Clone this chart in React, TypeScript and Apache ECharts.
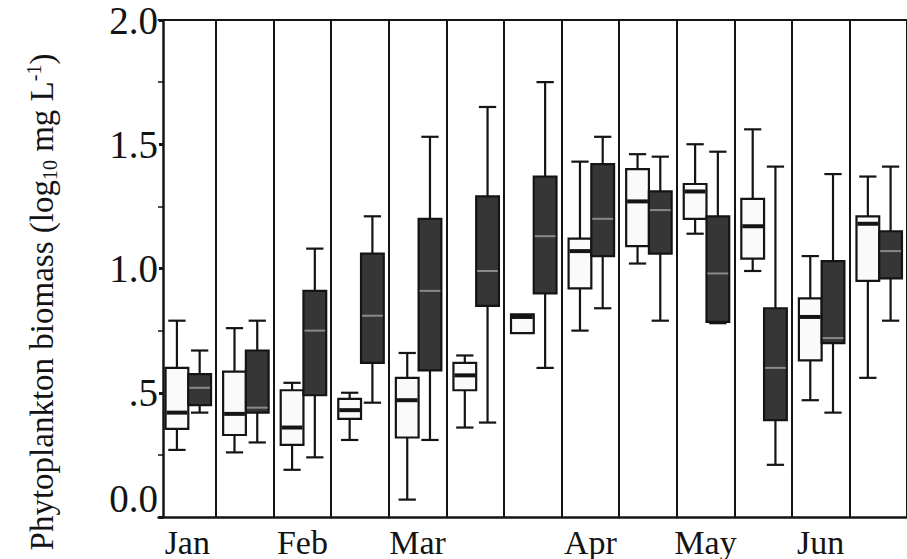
import React, { useEffect, useRef } from "react";
import * as echarts from "echarts";

// Month labels under their columns (13 sampling columns)
const columns = ["Jan", "", "Feb", "", "Mar", "", "", "Apr", "", "May", "", "Jun", ""];

// Open boxes: whisker low, Q1, median, Q3, whisker high (log10 mg L-1)
const openLow = [0.27, 0.26, 0.19, 0.31, 0.07, 0.36, 0.74, 0.75, 1.02, 1.14, 0.99, 0.47, 0.56];
const openQ1 = [0.355, 0.33, 0.29, 0.395, 0.32, 0.51, 0.74, 0.92, 1.09, 1.2, 1.04, 0.63, 0.95];
const openMed = [0.42, 0.415, 0.36, 0.43, 0.47, 0.57, 0.805, 1.07, 1.27, 1.31, 1.17, 0.805, 1.18];
const openQ3 = [0.6, 0.585, 0.51, 0.475, 0.56, 0.62, 0.815, 1.12, 1.4, 1.34, 1.28, 0.88, 1.21];
const openHigh = [0.79, 0.76, 0.54, 0.5, 0.66, 0.65, 0.815, 1.43, 1.46, 1.5, 1.56, 1.05, 1.37];

// Shaded boxes
const shadedLow = [0.42, 0.3, 0.24, 0.46, 0.31, 0.38, 0.6, 0.84, 0.79, 0.78, 0.21, 0.42, 0.79];
const shadedQ1 = [0.45, 0.42, 0.49, 0.62, 0.59, 0.85, 0.9, 1.05, 1.06, 0.785, 0.39, 0.7, 0.96];
const shadedMed = [0.52, 0.44, 0.75, 0.81, 0.91, 0.99, 1.13, 1.2, 1.235, 0.98, 0.6, 0.72, 1.07];
const shadedQ3 = [0.575, 0.67, 0.91, 1.06, 1.2, 1.29, 1.37, 1.42, 1.31, 1.21, 0.84, 1.03, 1.15];
const shadedHigh = [0.67, 0.79, 1.08, 1.21, 1.53, 1.65, 1.75, 1.53, 1.45, 1.47, 1.41, 1.38, 1.41];

const yTicks: Record<string, string> = { "0": "0.0", "0.5": ".5", "1": "1.0", "1.5": "1.5", "2": "2.0" };

const SERIF = "'Liberation Serif', 'DejaVu Serif', serif";
const INK = "#141414";

function rows(lo: number[], q1: number[], med: number[], q3: number[], hi: number[]) {
  return lo.map((v, i) => [i, v, q1[i], med[i], q3[i], hi[i]]);
}

function boxRenderer(offsetFrac: number, fill: string, medianColor: string, medianWidth: number) {
  return (_params: any, api: any) => {
    const i = api.value(0);
    const band = api.size([1, 0])[0];
    const cx = api.coord([i, 0])[0] + band * offsetFrac;
    const yLo = api.coord([i, api.value(1)])[1];
    const yQ1 = api.coord([i, api.value(2)])[1];
    const yMed = api.coord([i, api.value(3)])[1];
    const yQ3 = api.coord([i, api.value(4)])[1];
    const yHi = api.coord([i, api.value(5)])[1];
    const w = band * 0.395;
    const cap = band * 0.3;
    const stroke = { stroke: INK, lineWidth: 2.2 };
    const children: any[] = [];
    if (yHi < yQ3 - 0.5) {
      children.push({ type: "line", shape: { x1: cx, y1: yHi, x2: cx, y2: yQ3 }, style: stroke });
      children.push({ type: "line", shape: { x1: cx - cap / 2, y1: yHi, x2: cx + cap / 2, y2: yHi }, style: stroke });
    }
    if (yLo > yQ1 + 0.5) {
      children.push({ type: "line", shape: { x1: cx, y1: yQ1, x2: cx, y2: yLo }, style: stroke });
      children.push({ type: "line", shape: { x1: cx - cap / 2, y1: yLo, x2: cx + cap / 2, y2: yLo }, style: stroke });
    }
    children.push({
      type: "rect",
      shape: { x: cx - w / 2, y: yQ3, width: w, height: Math.max(yQ1 - yQ3, 1) },
      style: { fill, stroke: INK, lineWidth: 2.2 },
    });
    children.push({
      type: "line",
      shape: { x1: cx - w / 2 + 1, y1: yMed, x2: cx + w / 2 - 1, y2: yMed },
      style: { stroke: medianColor, lineWidth: medianWidth },
    });
    return { type: "group", children };
  };
}

export default function App() {
  const ref = useRef<HTMLDivElement>(null);

  useEffect(() => {
    if (!ref.current) return;
    const chart = echarts.init(ref.current, null, { renderer: "svg" });
    chart.setOption({
      animation: false,
      backgroundColor: "#ffffff",
      grid: { left: 158.5, right: -14, top: 20, bottom: 42, containLabel: false },
      xAxis: [
        {
          type: "category",
          data: columns,
          position: "bottom",
          boundaryGap: true,
          axisLine: { show: true, lineStyle: { color: INK, width: 2.5 } },
          axisTick: { show: false },
          axisLabel: { interval: 0, color: INK, fontFamily: SERIF, fontSize: 34, margin: 8 },
          splitLine: { show: true, interval: 0, showMinLine: false, lineStyle: { color: INK, width: 2 } },
        },
        {
          type: "category",
          data: columns,
          position: "top",
          axisLine: { show: true, lineStyle: { color: INK, width: 2 } },
          axisTick: { show: false },
          axisLabel: { show: false },
          splitLine: { show: false },
        },
      ],
      yAxis: {
        type: "value",
        min: 0,
        max: 2,
        interval: 0.5,
        offset: -4.5,
        axisLine: { show: true, lineStyle: { color: INK, width: 2.5 } },
        axisTick: { show: true, length: 4, lineStyle: { color: INK, width: 3 } },
        minorTick: { show: true, splitNumber: 2, length: 5, lineStyle: { color: INK, width: 1.5 } },
        splitLine: { show: false },
        axisLabel: {
          color: INK,
          fontFamily: SERIF,
          fontSize: 39,
          margin: 5,
          formatter: (v: number) => (v === 0 ? "{lo|0.0}" : yTicks[String(v)] ?? String(v)),
          rich: { lo: { fontFamily: SERIF, fontSize: 39, color: INK, padding: [0, 0, 38, 0] } },
        },
      },
      graphic: [
        {
          type: "text",
          x: 42,
          y: 302,
          rotation: Math.PI / 2,
          style: {
            text: "{t|Phytoplankton biomass (log}{s|10}{t| mg L}{p|-1}{t|)}",
            align: "center",
            verticalAlign: "middle",
            rich: {
              t: { fontFamily: SERIF, fontSize: 33, fill: INK, lineHeight: 36, verticalAlign: "middle" },
              s: { fontFamily: SERIF, fontSize: 20, fill: INK, lineHeight: 36, verticalAlign: "bottom" },
              p: { fontFamily: SERIF, fontSize: 20, fill: INK, lineHeight: 30, verticalAlign: "top" },
            },
          },
        },
      ],
      series: [
        {
          name: "open",
          type: "custom",
          xAxisIndex: 0,
          renderItem: boxRenderer(-0.18, "#fafafa", INK, 4),
          encode: { x: 0, y: [1, 2, 3, 4, 5] },
          data: rows(openLow, openQ1, openMed, openQ3, openHigh),
          z: 3,
        },
        {
          name: "shaded",
          type: "custom",
          xAxisIndex: 0,
          renderItem: boxRenderer(0.215, "#363636", "#8a8a8a", 2),
          encode: { x: 0, y: [1, 2, 3, 4, 5] },
          data: rows(shadedLow, shadedQ1, shadedMed, shadedQ3, shadedHigh),
          z: 3,
        },
      ],
    });
    return () => chart.dispose();
  }, []);

  return <div ref={ref} style={{ width: 907, height: 559, position: "absolute", left: 0, top: 0 }} />;
}
